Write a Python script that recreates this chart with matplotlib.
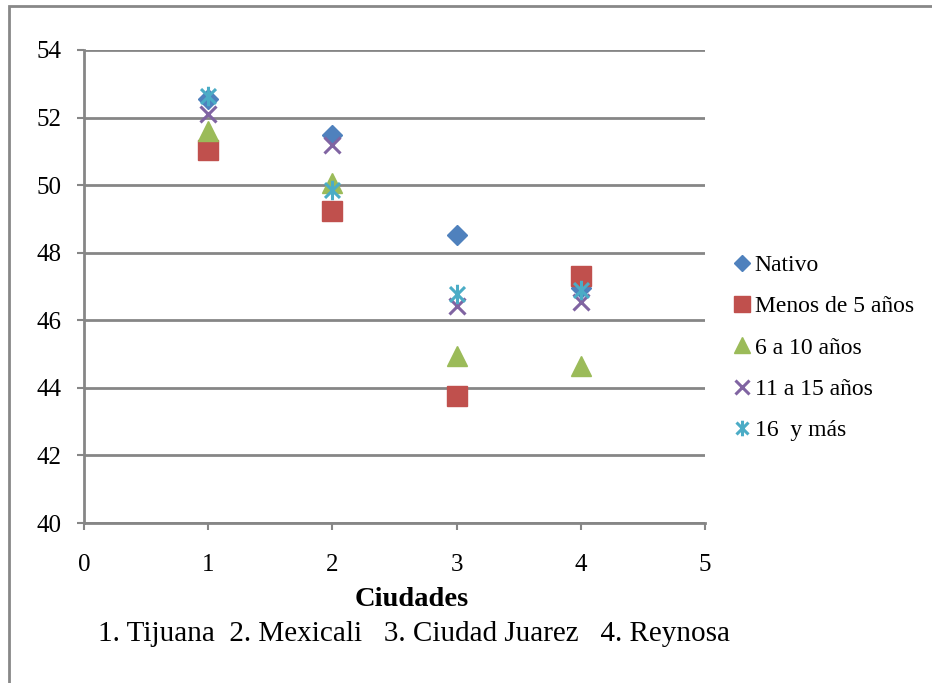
import matplotlib.pyplot as plt
import numpy as np
from matplotlib.path import Path
from matplotlib.patches import Rectangle

plt.rcParams['font.family'] = ['Liberation Serif', 'DejaVu Serif']

ciudades = [1, 2, 3, 4]
nativo = [52.55, 51.48, 48.52, 46.95]
menos_5 = [51.05, 49.22, 43.75, 47.32]
de_6_10 = [51.6, 50.05, 44.95, 44.65]
de_11_15 = [52.1, 51.2, 46.42, 46.55]
de_16_mas = [52.65, 49.85, 46.78, 46.9]

labels = ['Nativo', 'Menos de 5 años', '6 a 10 años', '11 a 15 años', '16  y más']
colors = ['#4F81BD', '#C0504D', '#9BBB59', '#8064A2', '#4BACC6']

# excel style asterisk: an x with a vertical bar
ast = Path([(-1, -1), (1, 1), (-1, 1), (1, -1), (0, -1.3), (0, 1.3)],
           [Path.MOVETO, Path.LINETO, Path.MOVETO, Path.LINETO, Path.MOVETO, Path.LINETO])

fig = plt.figure(figsize=(9.32, 6.83), dpi=100)
ax = fig.add_axes([84/932, 1-523/683, (705-84)/932, (523-50)/683])

ax.plot(ciudades, nativo, 'D', color=colors[0], ms=10.5, ls='none', label=labels[0], zorder=3)
ax.plot(ciudades, menos_5, 's', color=colors[1], ms=14, ls='none', label=labels[1], zorder=3)
ax.plot(ciudades, de_6_10, '^', color=colors[2], ms=14, ls='none', label=labels[2], zorder=3)
ax.plot(ciudades, de_11_15, 'x', color=colors[3], ms=12, mew=2.2, ls='none', label=labels[3], zorder=3)
ax.plot(ciudades, de_16_mas, marker=ast, color=colors[4], ms=14, mew=2.2, ls='none', label=labels[4], zorder=3)

ax.set_xlim(0, 5)
ax.set_ylim(40, 54)
ax.set_xticks(range(0, 6))
ax.set_yticks(range(40, 55, 2))
ax.yaxis.grid(True, color='#868686', lw=2)
ax.set_axisbelow(True)
for s in ['top', 'right']:
    ax.spines[s].set_visible(False)
for s in ['left', 'bottom']:
    ax.spines[s].set_color('#868686')
    ax.spines[s].set_linewidth(2)
ax.tick_params(axis='both', colors='#868686', width=1.5, length=5, labelcolor='black', labelsize=18)
ax.tick_params(axis='y', pad=11)
ax.tick_params(axis='x', pad=17)

fig.text(412/932, 1-600/683, 'Ciudades', ha='center', va='center', fontsize=20.5, fontweight='bold')
fig.text(414/932, 1-634/683, '1. Tijuana  2. Mexicali   3. Ciudad Juarez   4. Reynosa',
         ha='center', va='center', fontsize=21)

fig.legend(loc='upper left', bbox_to_anchor=(725/932, 1-245/683), frameon=False,
           fontsize=17, handlelength=0.6, handletextpad=0.25, labelspacing=0.84,
           markerscale=0.8, borderaxespad=0)

fig.patches.append(Rectangle((9/932, -0.1), 1.2, 1-6/683+0.1, transform=fig.transFigure,
                             fill=False, edgecolor='#888888', lw=2, figure=fig))

fig.savefig('out.png', dpi=100)
